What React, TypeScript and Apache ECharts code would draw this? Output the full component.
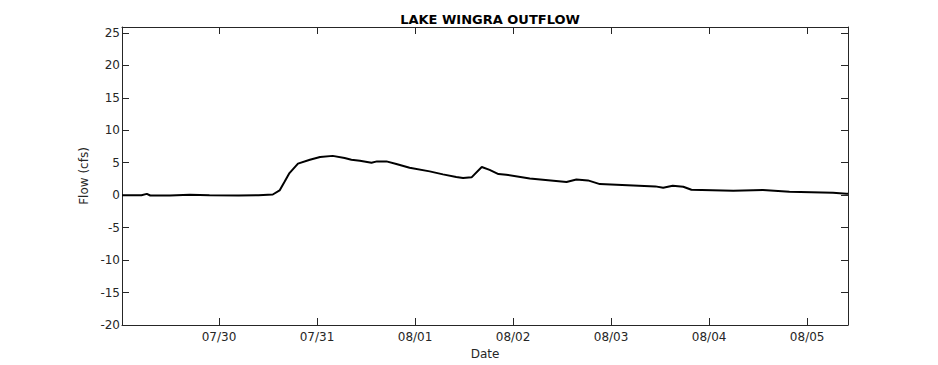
import React, { useEffect, useRef } from "react";
import * as echarts from "echarts";

const times: string[] = [
  "2014-07-29T00:15", "2014-07-29T05:00", "2014-07-29T06:20", "2014-07-29T07:10",
  "2014-07-29T12:00", "2014-07-29T16:50", "2014-07-29T21:40", "2014-07-30T04:50",
  "2014-07-30T09:40", "2014-07-30T13:10", "2014-07-30T14:50", "2014-07-30T16:05",
  "2014-07-30T17:15", "2014-07-30T19:20", "2014-07-30T22:15", "2014-07-31T00:45",
  "2014-07-31T03:50", "2014-07-31T06:45", "2014-07-31T08:25", "2014-07-31T10:30",
  "2014-07-31T13:20", "2014-07-31T14:40", "2014-07-31T17:00", "2014-07-31T19:25",
  "2014-07-31T22:40", "2014-08-01T03:35", "2014-08-01T06:50", "2014-08-01T10:05",
  "2014-08-01T11:45", "2014-08-01T13:50", "2014-08-01T16:20", "2014-08-01T18:15",
  "2014-08-01T20:25", "2014-08-01T22:20", "2014-08-02T04:05", "2014-08-02T13:05",
  "2014-08-02T15:30", "2014-08-02T18:20", "2014-08-02T21:15", "2014-08-03T05:25",
  "2014-08-03T10:50", "2014-08-03T12:45", "2014-08-03T15:05", "2014-08-03T17:40",
  "2014-08-03T19:40", "2014-08-04T05:55", "2014-08-04T13:10", "2014-08-04T19:40",
  "2014-08-05T06:20", "2014-08-05T09:35", "2014-08-05T10:00",
];

const flows: number[] = [
  0.0, 0.0, 0.2, -0.05,
  -0.05, 0.08, 0.0, -0.05,
  0.0, 0.1, 0.73, 2.1,
  3.4, 4.85, 5.46, 5.88,
  6.05, 5.72, 5.46, 5.3,
  5.0, 5.2, 5.2, 4.8,
  4.23, 3.66, 3.2, 2.8,
  2.64, 2.74, 4.33, 3.9,
  3.25, 3.15, 2.58, 2.02,
  2.42, 2.27, 1.7, 1.5,
  1.35, 1.14, 1.45, 1.3,
  0.83, 0.68, 0.79, 0.52,
  0.37, 0.2, 0.2,
];

const titleText = "LAKE WINGRA OUTFLOW";
const yName = "Flow (cfs)";
const xName = "Date";
const xMin = "2014-07-29T00:15";
const xMax = "2014-08-05T10:00";
const yMin = -20;
const yMax = 25.9;
const yInterval = 5;

const FONT = "DejaVu Sans";
const AX = "#262626";

export default function App() {
  const ref = useRef<HTMLDivElement>(null);
  useEffect(() => {
    if (!ref.current) return;
    const chart = echarts.init(ref.current, undefined, { renderer: "svg" });
    const data = times.map((t, i) => [new Date(t).getTime(), flows[i]]);
    const pad = (n: number) => (n < 10 ? "0" + n : "" + n);
    const dayFmt = (v: number) => {
      const d = new Date(v);
      return pad(d.getMonth() + 1) + "/" + pad(d.getDate());
    };
    const xCommon = {
      type: "time" as const,
      min: new Date(xMin).getTime(),
      max: new Date(xMax).getTime(),
      minInterval: 86400000,
      maxInterval: 86400000,
      axisLine: { show: true, onZero: false, lineStyle: { color: AX, width: 1 } },
      axisTick: { show: true, inside: true, length: 7, lineStyle: { color: AX } },
      splitLine: { show: false },
      minorTick: { show: false },
    };
    const yCommon = {
      type: "value" as const,
      min: yMin,
      max: yMax,
      interval: yInterval,
      axisLine: { show: true, onZero: false, lineStyle: { color: AX, width: 1 } },
      axisTick: { show: true, inside: true, length: 7, lineStyle: { color: AX } },
      splitLine: { show: false },
    };
    chart.setOption({
      animation: false,
      backgroundColor: "#ffffff",
      title: {
        text: titleText,
        left: 485,
        top: 8,
        textAlign: "center",
        textStyle: { fontFamily: FONT, fontSize: 13, fontWeight: "bold", color: "#000" },
      },
      grid: { left: 122, right: 90, top: 27, bottom: 40, containLabel: false },
      xAxis: [
        {
          ...xCommon,
          position: "bottom",
          name: xName,
          nameLocation: "middle",
          nameGap: 23,
          nameTextStyle: { fontFamily: FONT, fontSize: 12, color: AX, verticalAlign: "top" },
          axisLabel: {
            show: true,
            margin: 6,
            fontFamily: FONT,
            fontSize: 12,
            color: AX,
            showMinLabel: false,
            showMaxLabel: false,
            formatter: (v: number) => dayFmt(v),
          },
        },
        {
          ...xCommon,
          position: "top",
          axisLabel: { show: false },
        },
      ],
      yAxis: [
        {
          ...yCommon,
          position: "left",
          name: yName,
          nameLocation: "middle",
          nameGap: 25,
          nameRotate: 90,
          nameTextStyle: { fontFamily: FONT, fontSize: 12, color: AX },
          axisLabel: {
            show: true,
            margin: 2,
            fontFamily: FONT,
            fontSize: 12,
            color: AX,
            formatter: (v: number) => (Math.abs(v % 5) < 1e-9 ? String(v) : ""),
          },
        },
        {
          ...yCommon,
          position: "right",
          axisLabel: { show: false },
        },
      ],
      series: [
        {
          type: "line",
          data,
          xAxisIndex: 0,
          yAxisIndex: 0,
          showSymbol: false,
          symbol: "none",
          lineStyle: { color: "#000", width: 2 },
        },
      ],
    });
    return () => chart.dispose();
  }, []);
  return (
    <div
      ref={ref}
      style={{ position: "fixed", left: 0, top: 0, width: 938, height: 365 }}
    />
  );
}
